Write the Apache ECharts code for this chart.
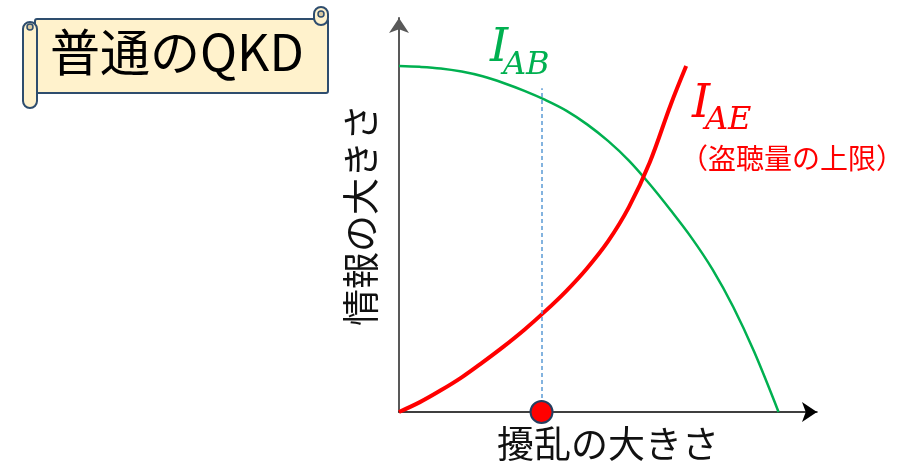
<!DOCTYPE html>
<html>
<head>
<meta charset="utf-8">
<script src="https://cdn.jsdelivr.net/npm/echarts@6/dist/echarts.min.js"></script>
<style>
  html, body { margin: 0; padding: 0; background: #fff; }
  #chart { width: 918px; height: 463px; }
</style>
</head>
<body>
<div id="chart"></div>
<script>
// 情報量 I_AB（正規の受信者）
const abX = [0, 0.5, 1, 1.5, 2, 2.5, 3, 3.5, 4, 4.5, 5, 5.5, 6, 6.5, 7, 7.5, 8, 8.5, 9.08]
const abY = [8.78, 8.76, 8.72, 8.64, 8.52, 8.35, 8.15, 7.92, 7.65, 7.30, 6.88, 6.38, 5.78, 5.12, 4.42, 3.62, 2.66, 1.52, 0]

// 情報量 I_AE（盗聴量の上限）
const aeX = [0, 0.5, 1, 1.5, 2, 2.5, 3, 3.5, 4, 4.5, 5, 5.5, 6, 6.5, 6.87]
const aeY = [0, 0.25, 0.55, 0.88, 1.26, 1.66, 2.09, 2.56, 3.07, 3.65, 4.33, 5.20, 6.34, 7.80, 8.78]

// 擾乱の位置（点線と赤い点）
const markX = 3.41
const markTop = 8.22

const font = '"Noto Sans CJK JP", "Noto Sans", sans-serif'
const mathFont = '"DejaVu Serif", "Liberation Serif", serif'

const chart = echarts.init(document.getElementById('chart'))

function mathText(txt, left, top, size, color) {
  return {
    type: 'text',
    left: left,
    top: top,
    style: { text: txt, font: 'italic ' + size + 'px ' + mathFont, fill: color }
  }
}

const option = {
  animation: false,
  grid: { left: 399, right: 101, top: 18, bottom: 51, outerBoundsMode: 'none', containLabel: false },
  xAxis: {
    type: 'value',
    min: 0,
    max: 10,
    name: '擾乱の大きさ',
    nameLocation: 'middle',
    nameGap: 13,
    nameTextStyle: { fontFamily: font, fontSize: 37, color: '#111', verticalAlign: 'top' },
    axisLine: {
      show: true,
      symbol: ['none', 'arrow'],
      symbolSize: [15, 15],
      lineStyle: { color: '#000', width: 1.5 }
    },
    axisTick: { show: false },
    axisLabel: { show: false },
    splitLine: { show: false }
  },
  yAxis: {
    type: 'value',
    min: 0,
    max: 10,
    name: '情報の大きさ',
    nameLocation: 'middle',
    nameGap: 20,
    nameTextStyle: { fontFamily: font, fontSize: 37, color: '#111' },
    axisLine: {
      show: true,
      symbol: ['none', 'arrow'],
      symbolSize: [15, 15],
      lineStyle: { color: '#595959', width: 2 }
    },
    axisTick: { show: false },
    axisLabel: { show: false },
    splitLine: { show: false }
  },
  series: [
    {
      name: 'I_AB',
      type: 'line',
      smooth: 0.35,
      showSymbol: false,
      clip: false,
      lineStyle: { color: '#00B050', width: 2.5 },
      data: abX.map((x, i) => [x, abY[i]]),
      z: 3,
      markLine: {
        silent: true,
        symbol: ['none', 'none'],
        label: { show: false },
        lineStyle: { color: '#5B9BD5', width: 1.5, type: [4, 3], opacity: 1 },
        data: [[{ coord: [markX, 0] }, { coord: [markX, markTop] }]]
      }
    },
    {
      name: 'I_AE',
      type: 'line',
      smooth: 0.35,
      showSymbol: false,
      clip: false,
      lineStyle: { color: '#FF0000', width: 4 },
      data: aeX.map((x, i) => [x, aeY[i]]),
      z: 4
    },
    {
      type: 'scatter',
      clip: false,
      symbolSize: 22,
      itemStyle: { color: '#FF0000', borderColor: '#243F60', borderWidth: 2, opacity: 1 },
      data: [[markX, 0]],
      z: 6
    }
  ],
  graphic: [
    // 巻物型のタイトル
    {
      type: 'rect',
      shape: { x: 35, y: 19, width: 293, height: 74, r: 2 },
      style: { fill: '#FFF2CC', stroke: '#2E4D6E', lineWidth: 2 },
      z: 10
    },
    {
      type: 'rect',
      shape: { x: 23, y: 22, width: 14, height: 86, r: 7 },
      style: { fill: '#FFF2CC', stroke: '#2E4D6E', lineWidth: 2 },
      z: 11
    },
    {
      type: 'circle',
      shape: { cx: 30, cy: 27, r: 3 },
      style: { fill: '#D9C9A0', stroke: '#2E4D6E', lineWidth: 1.5 },
      z: 12
    },
    {
      type: 'rect',
      shape: { x: 314, y: 7, width: 14, height: 18, r: 7 },
      style: { fill: '#FFF2CC', stroke: '#2E4D6E', lineWidth: 2 },
      z: 11
    },
    {
      type: 'circle',
      shape: { cx: 321, cy: 14, r: 3 },
      style: { fill: '#D9C9A0', stroke: '#2E4D6E', lineWidth: 1.5 },
      z: 12
    },
    {
      type: 'text',
      left: 50,
      top: 27,
      style: { text: '普通のQKD', font: '50px ' + font, fill: '#000' },
      z: 13
    },
    // 曲線のラベル
    mathText('I', 490, 26, 46, '#00B050'),
    mathText('AB', 503, 50, 32, '#00B050'),
    mathText('I', 692, 82, 46, '#FF0000'),
    mathText('AE', 705, 105, 32, '#FF0000'),
    {
      type: 'text',
      left: 680,
      top: 144,
      style: { text: '（盗聴量の上限）', font: '28px ' + font, fill: '#FF0000' }
    }
  ]
}

chart.setOption(option)
</script>
</body>
</html>
